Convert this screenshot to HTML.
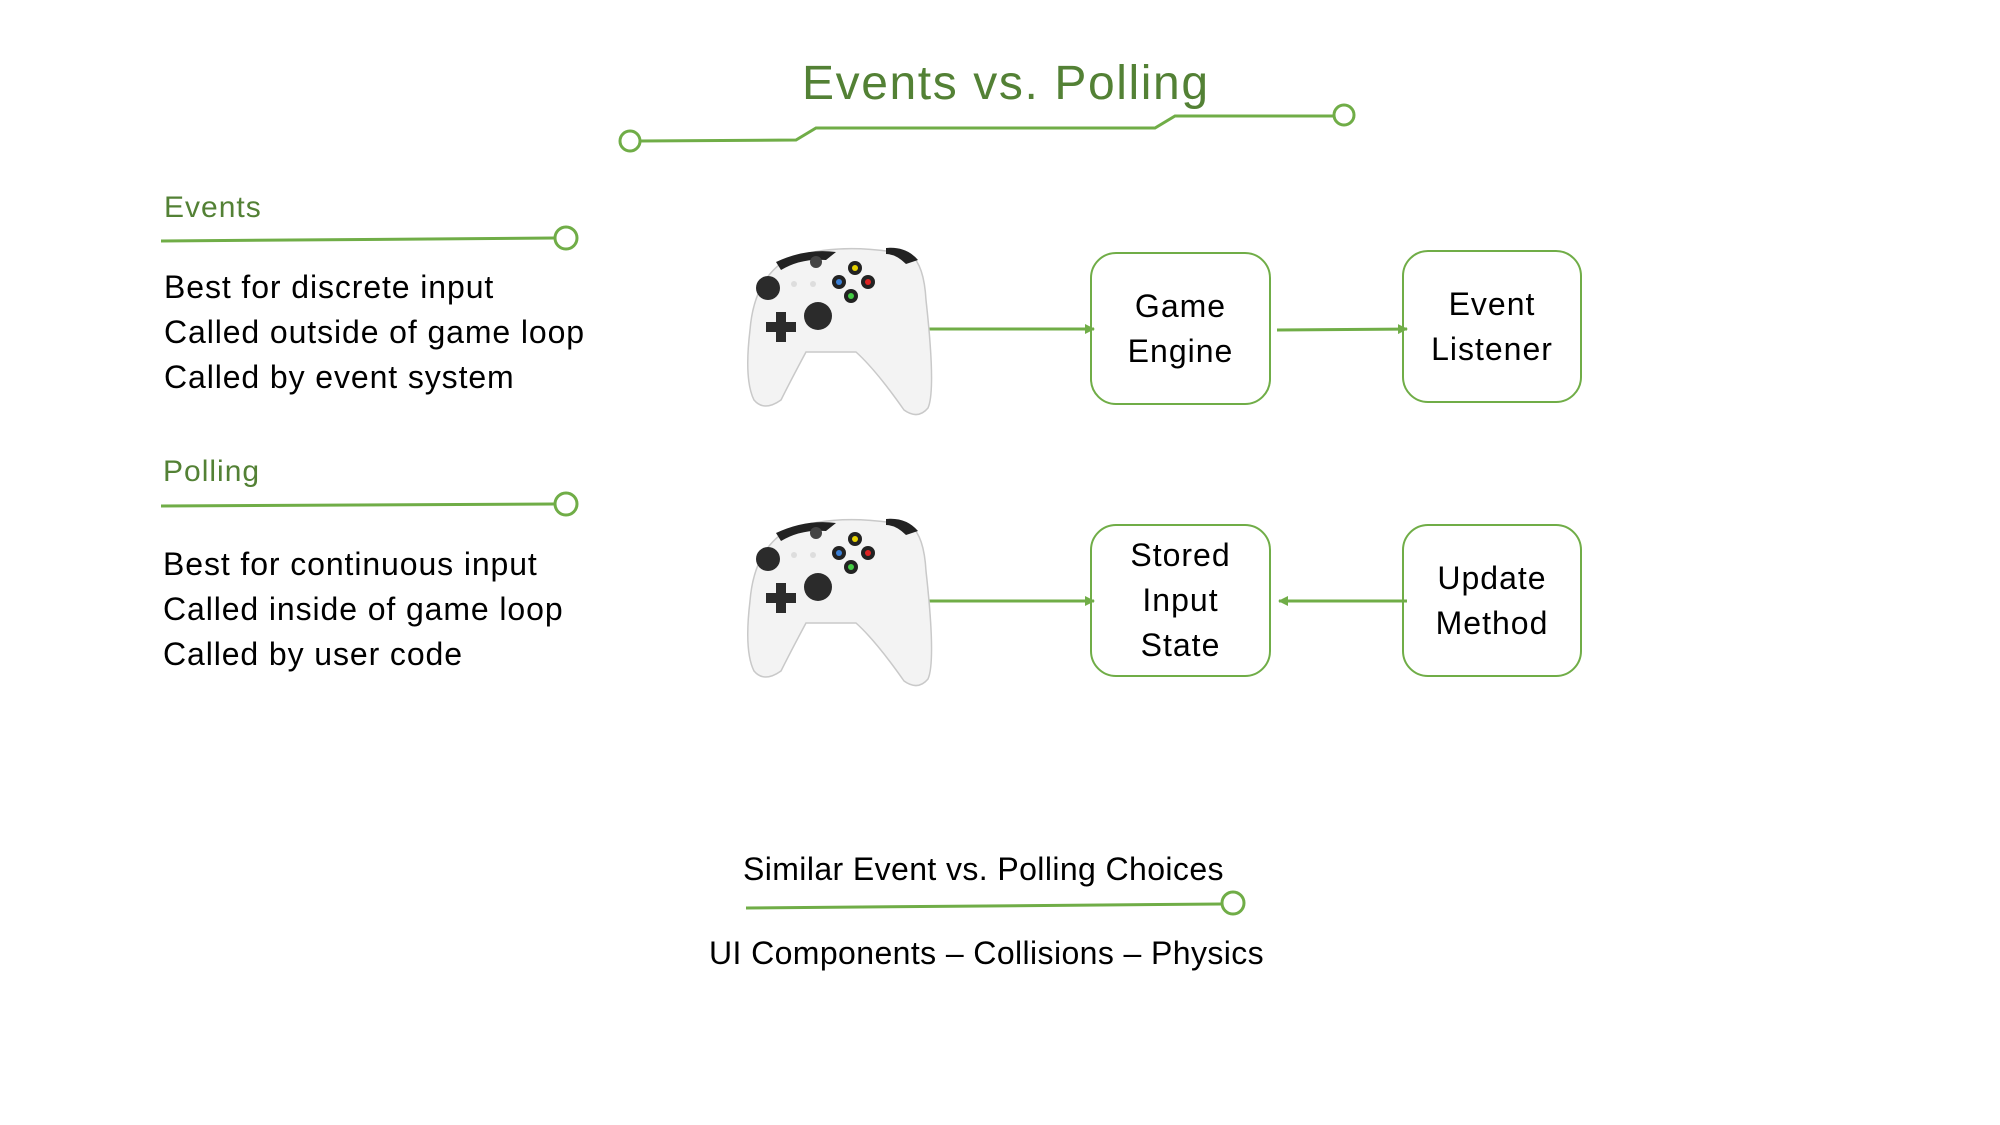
<!DOCTYPE html>
<html><head><meta charset="utf-8"><style>
body{margin:0;background:#fff;}
#c{position:relative;width:2000px;height:1125px;overflow:hidden;font-family:"Liberation Sans",sans-serif;}
.t{position:absolute;white-space:nowrap;line-height:1;}
.b{font-size:32px;color:#000;letter-spacing:0.9px;}
.g{color:#538135;}
.box{position:absolute;border:2.5px solid #70ad47;border-radius:26px;box-sizing:border-box;display:flex;align-items:center;justify-content:center;text-align:center;font-size:32px;line-height:45px;letter-spacing:1px;color:#000;}
</style></head><body><div id="c">
<svg width="2000" height="1125" style="position:absolute;left:0;top:0">
<defs>
<marker id="ar" markerWidth="10" markerHeight="10" refX="9" refY="5" orient="auto" markerUnits="userSpaceOnUse"><path d="M0,0 L10,5 L0,10 z" fill="#70ad47"/></marker>
<g id="pad">
<path d="M40,20 Q90,0 165,15 Q178,25 180,60 Q190,150 182,168 Q172,180 158,170 Q130,130 110,112 L60,112 Q45,140 35,160 Q18,172 8,160 Q-2,140 4,90 Q8,40 40,20 z" fill="#f3f3f3" stroke="#c9c9c9" stroke-width="1.5"/>
<path d="M30,22 Q60,8 90,12 L80,20 Q55,18 35,30 z" fill="#222"/>
<path d="M140,8 Q160,6 172,20 L160,24 Q150,14 140,14 z" fill="#222"/>
<circle cx="22" cy="48" r="12" fill="#2b2b2b"/>
<circle cx="72" cy="76" r="14" fill="#2b2b2b"/>
<path d="M30,72 h10 v10 h10 v10 h-10 v10 h-10 v-10 h-10 v-10 h10 z" fill="#2b2b2b"/>
<circle cx="70" cy="22" r="6" fill="#444"/>
<circle cx="48" cy="44" r="3" fill="#ddd"/><circle cx="67" cy="44" r="3" fill="#ddd"/>
<circle cx="109" cy="28" r="7" fill="#222"/><circle cx="109" cy="28" r="3" fill="#e6d200"/>
<circle cx="93" cy="42" r="7" fill="#222"/><circle cx="93" cy="42" r="3" fill="#3a7fd6"/>
<circle cx="122" cy="42" r="7" fill="#222"/><circle cx="122" cy="42" r="3" fill="#d22"/>
<circle cx="105" cy="56" r="7" fill="#222"/><circle cx="105" cy="56" r="3" fill="#4c4"/>
</g>
</defs>
<g fill="none" stroke="#70ad47" stroke-width="3">
<polyline points="639,141 796,140 816,128 1155,128 1175,116 1333,116"/>
<circle cx="630" cy="141" r="10" fill="#fff"/>
<circle cx="1344" cy="115" r="10" fill="#fff"/>
<line x1="161" y1="241" x2="555" y2="238"/><circle cx="566" cy="238" r="11" fill="#fff"/>
<line x1="161" y1="506" x2="555" y2="504"/><circle cx="566" cy="504" r="11" fill="#fff"/>
<line x1="746" y1="908" x2="1222" y2="904"/><circle cx="1233" cy="903" r="11" fill="#fff"/>
<line x1="923" y1="329" x2="1094" y2="329" marker-end="url(#ar)"/>
<line x1="1277" y1="330" x2="1407" y2="329" marker-end="url(#ar)"/>
<line x1="923" y1="601" x2="1094" y2="601" marker-end="url(#ar)"/>
<line x1="1407" y1="601" x2="1279" y2="601" marker-end="url(#ar)"/>
</g>
<use href="#pad" x="746" y="240"/>
<use href="#pad" x="746" y="511"/>
</svg>
<div class="t g" style="left:802px;top:60px;font-size:48px;letter-spacing:1.6px">Events vs. Polling</div>
<div class="t g" style="left:164px;top:193px;font-size:30px;letter-spacing:1px">Events</div>
<div class="t b" style="left:164px;top:271px">Best for discrete input</div>
<div class="t b" style="left:164px;top:316px">Called outside of game loop</div>
<div class="t b" style="left:164px;top:361px">Called by event system</div>
<div class="t g" style="left:163px;top:457px;font-size:30px;letter-spacing:1px">Polling</div>
<div class="t b" style="left:163px;top:548px">Best for continuous input</div>
<div class="t b" style="left:163px;top:593px">Called inside of game loop</div>
<div class="t b" style="left:163px;top:638px">Called by user code</div>
<div class="box" style="left:1090px;top:252px;width:181px;height:153px">Game<br>Engine</div>
<div class="box" style="left:1402px;top:250px;width:180px;height:153px">Event<br>Listener</div>
<div class="box" style="left:1090px;top:524px;width:181px;height:153px">Stored<br>Input<br>State</div>
<div class="box" style="left:1402px;top:524px;width:180px;height:153px">Update<br>Method</div>
<div class="t b" style="left:743px;top:853px;letter-spacing:0.4px">Similar Event vs. Polling Choices</div>
<div class="t b" style="left:709px;top:937px;letter-spacing:0.4px">UI Components – Collisions – Physics</div>
</div></body></html>
